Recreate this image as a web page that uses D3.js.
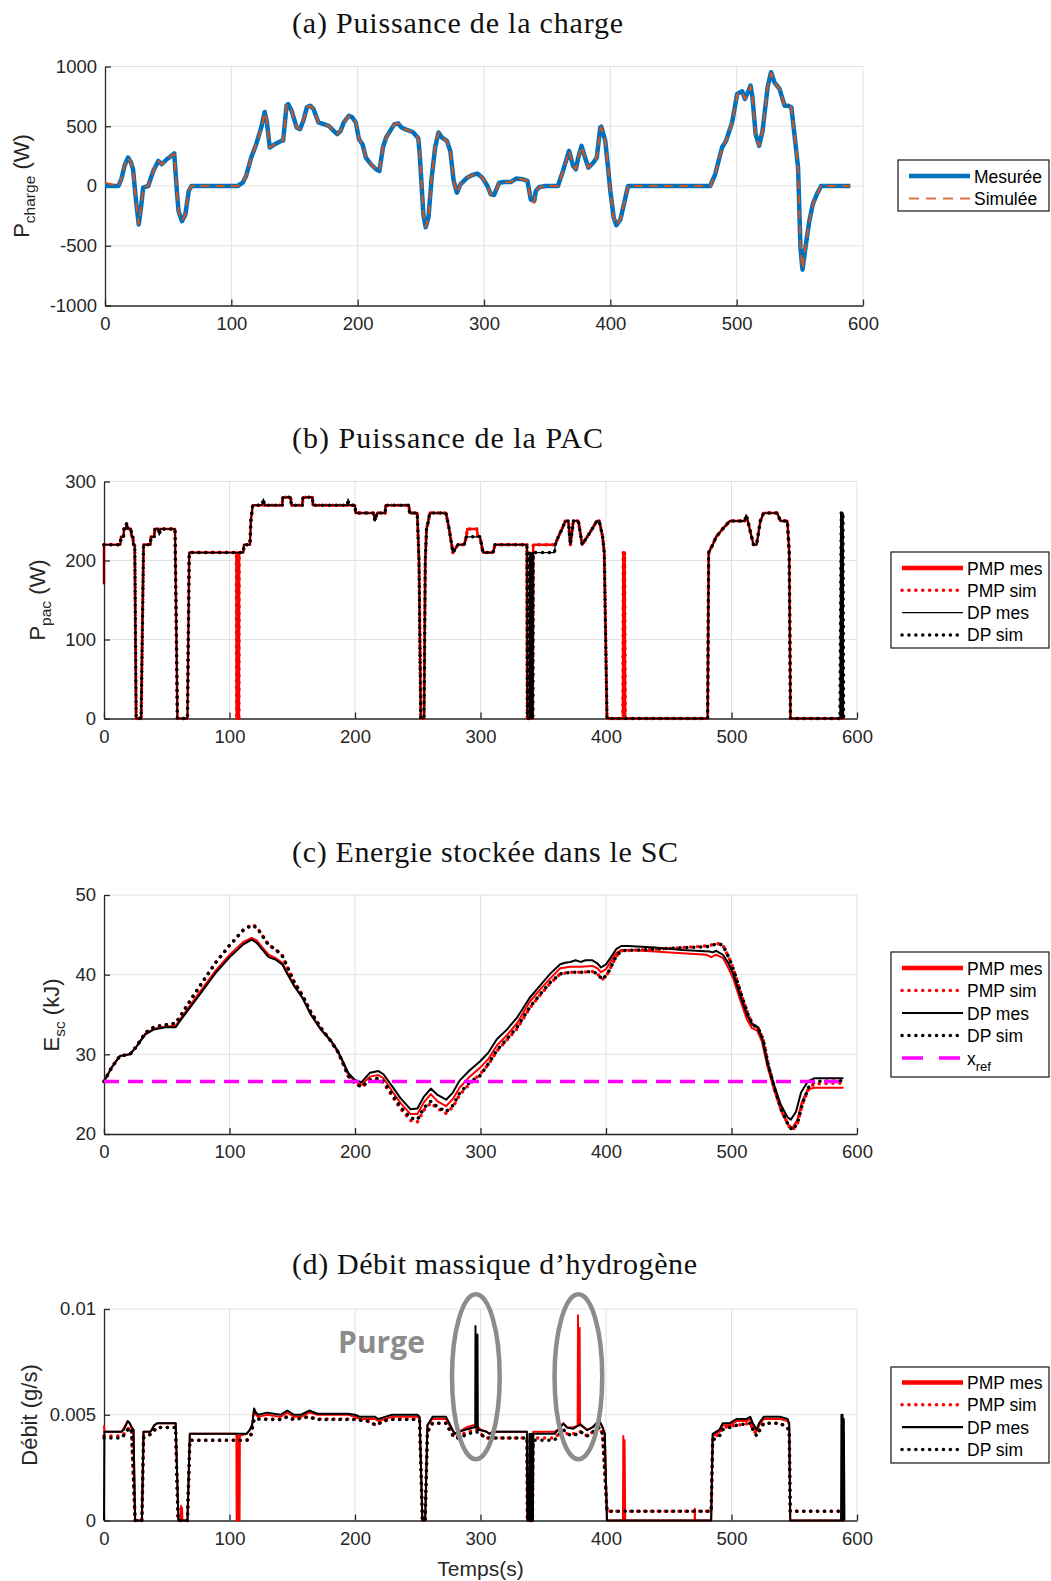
<!DOCTYPE html>
<html><head><meta charset="utf-8">
<script src="https://cdn.jsdelivr.net/npm/d3@7"></script>
<style>body{margin:0;background:#fff}svg{display:block}</style>
</head><body>
<script>
// ---------- DATA ----------
const xTicks = [0,100,200,300,400,500,600];
const xTickLabels = ['0','100','200','300','400','500','600'];
const aYTicks = [-1000,-500,0,500,1000];
const aYTickLabels = ['-1000','-500','0','500','1000'];
const bYTicks = [0,100,200,300];
const bYTickLabels = ['0','100','200','300'];
const cYTicks = [20,30,40,50];
const cYTickLabels = ['20','30','40','50'];
const dYTicks = [0,0.005,0.01];
const dYTickLabels = ['0','0.005','0.01'];

const titles = ['(a) Puissance de la charge','(b) Puissance de la PAC','(c) Energie stockée dans le SC','(d) Débit massique d’hydrogène'];
const legendA = ['Mesurée','Simulée'];
const legendB = ['PMP mes','PMP sim','DP mes','DP sim'];
const legendC = ['PMP mes','PMP sim','DP mes','DP sim','x_ref'];

// (a) load power [t (s), P (W)]
const chargeMes = [[0,0],[10.7,0],[13,60],[15.5,170],[18.2,238],[20.5,200],[22.2,140],[24.5,-120],[26.7,-322],[28.5,-180],[30.2,-14],[34.2,0],[38.2,126],[42.2,210],[44.9,182],[48.9,224],[51.6,244],[54.8,272],[56.9,-42],[58.2,-210],[60.9,-294],[63.6,-238],[66.3,-42],[68.4,0],[105,0],[109,28],[111.7,84],[115.7,238],[119.7,350],[123.7,490],[126.4,620],[128.2,532],[130.4,322],[134.4,350],[139.7,378],[141,380],[143.7,672],[145,686],[147.7,630],[151.7,490],[154.4,476],[157,546],[159.8,658],[162.4,672],[165,644],[169,532],[177,504],[181,462],[183.8,434],[186.5,462],[189,532],[193,588],[195.8,574],[198.5,532],[201,392],[203.8,350],[206.5,238],[210.5,182],[214.5,140],[217.2,126],[220,322],[222.5,406],[226.6,476],[229.2,518],[232,524],[234.6,490],[237.2,476],[241.2,462],[244,448],[248,400],[249.3,238],[252,-238],[253.8,-345],[256,-266],[258.6,70],[261.3,322],[264,448],[266.6,406],[270.6,378],[273.3,294],[276,42],[278.6,-56],[281.3,14],[286.7,70],[290.7,92],[294.7,104],[298.7,70],[302.7,0],[305.4,-70],[308,-75],[312,28],[316,34],[321.4,34],[325.4,62],[330.7,56],[334.4,42],[337,-112],[339.7,-126],[341,-42],[343.8,-8],[349,0],[358.5,0],[362.5,126],[367.3,294],[370.5,168],[372.7,140],[374.6,238],[377.2,336],[380,238],[382.6,154],[386.6,196],[389.3,238],[392,490],[392.8,496],[396,378],[397.9,182],[400,-42],[402.7,-266],[404.8,-328],[408,-280],[410.7,-154],[414,0],[479,0],[483,98],[488.4,322],[491.6,378],[496.4,532],[500.4,770],[504.4,793],[506.6,728],[511,840],[512.5,742],[515,434],[517.8,336],[520.5,462],[524.5,826],[527.2,952],[529.9,868],[533.9,812],[537.9,672],[540.6,672],[543.3,658],[546,406],[548.6,154],[550.5,-518],[552.1,-700],[554.8,-490],[557.5,-294],[560.2,-154],[563.4,-70],[566.8,0],[590,0]];
const chargeSim = [[0,28],[10.7,0],[13,60],[15.5,170],[18.2,236],[20.5,200],[22.2,140],[24.5,-120],[26.7,-318],[28.5,-180],[30.2,-14],[34.2,0],[38.2,126],[42.2,210],[44.9,182],[48.9,224],[51.6,244],[54.8,270],[56.9,-42],[58.2,-210],[60.9,-290],[63.6,-238],[66.3,-42],[68.4,0],[105,0],[109,28],[111.7,84],[115.7,238],[119.7,350],[123.7,490],[126.4,615],[128.2,532],[130.4,322],[134.4,350],[139.7,378],[141,380],[143.7,672],[145,682],[147.7,630],[151.7,490],[154.4,476],[157,546],[159.8,658],[162.4,670],[165,644],[169,532],[177,504],[181,462],[183.8,434],[186.5,462],[189,532],[193,585],[195.8,574],[198.5,532],[201,392],[203.8,350],[206.5,238],[210.5,182],[214.5,140],[217.2,126],[220,322],[222.5,406],[226.6,476],[229.2,518],[232,524],[234.6,490],[237.2,476],[241.2,462],[244,448],[248,400],[249.3,238],[252,-238],[253.8,-340],[256,-266],[258.6,70],[261.3,322],[264,448],[266.6,406],[270.6,378],[273.3,294],[276,42],[278.6,-56],[281.3,14],[286.7,70],[290.7,92],[294.7,104],[298.7,70],[302.7,0],[305.4,-70],[308,-75],[312,28],[316,34],[321.4,34],[325.4,62],[330.7,56],[334.4,42],[337,-120],[339.7,-140],[341,-42],[343.8,-8],[349,0],[358.5,0],[362.5,126],[367.3,290],[370.5,168],[372.7,140],[374.6,238],[377.2,330],[380,238],[382.6,154],[386.6,196],[389.3,238],[392,486],[392.8,492],[396,378],[397.9,182],[400,-42],[402.7,-266],[404.8,-325],[408,-280],[410.7,-154],[414,0],[479,0],[483,98],[488.4,322],[491.6,378],[496.4,532],[500.4,765],[504.4,790],[506.6,728],[511,835],[512.5,742],[515,434],[517.8,336],[520.5,462],[524.5,826],[527.2,945],[529.9,868],[533.9,812],[537.9,672],[540.6,672],[543.3,658],[546,406],[548.6,154],[550.5,-518],[552.1,-690],[554.8,-490],[557.5,-294],[560.2,-154],[563.4,-70],[566.8,0],[590,0]];

// (b) fuel-cell power [t (s), P (W)]
const pacPmpMes = [[0,170],[0,220],[13,220],[13.5,230],[15.5,230],[16,240],[17.5,240],[18,246],[19,240],[21.5,240],[22,230],[23,230],[23.5,220],[24.5,220],[25.6,0],[29.6,0],[31.5,220],[36.9,220],[37.5,230],[40,230],[40.5,240],[56.6,240],[58.5,0],[66.5,0],[67.9,210],[105.5,210],[105.7,0],[106.2,0],[106.4,210],[106.8,210],[107,0],[107.5,0],[107.7,210],[111,210],[111.5,220],[116.3,220],[117,250],[118.5,270],[142,270],[142.5,280],[148.7,280],[149.3,270],[158,270],[158.6,280],[166,280],[166.6,270],[200,270],[200.5,260],[214.6,260],[216,252],[217.5,260],[224,260],[224.5,270],[243,270],[243.5,260],[249.6,260],[251,200],[252.4,0],[255,0],[256,200],[257,240],[258.5,250],[259.5,260],[272.5,260],[275,240],[278,210],[280,215],[282,220],[287,220],[288.7,230],[289.5,240],[297,240],[298,230],[299.5,230],[300.8,220],[302,210],[310,210],[311.6,220],[337,220],[337.3,0],[341.5,0],[342,220],[358,220],[359.5,220],[362,230],[365,240],[367.6,250],[370,250],[371.6,220],[374,250],[378,250],[381,220],[385,230],[389,240],[392.7,250],[394.6,250],[397.3,230],[398.6,210],[400.8,0],[413.5,0],[413.8,210],[414.3,0],[414.8,210],[415.3,0],[481,0],[481.8,210],[485,220],[487.8,230],[493,240],[498.6,250],[510.7,250],[511.6,256],[513,250],[517.5,220],[520,220],[523,250],[525.6,260],[536.4,260],[539,250],[544.5,250],[546,210],[547,0],[590,0]];
const pacPmpSim = [[0,220],[13,220],[13.5,230],[15.5,230],[16,240],[17.5,240],[18,246],[19,240],[21.5,240],[22,230],[23,230],[23.5,220],[24.5,220],[25.6,0],[29.6,0],[31.5,220],[36.9,220],[37.5,230],[40,230],[40.5,240],[56.6,240],[58.5,0],[66.5,0],[67.9,210],[105.5,210],[105.7,0],[106.2,0],[106.4,210],[106.8,210],[107,0],[107.5,0],[107.7,210],[111,210],[111.5,220],[116.3,220],[117,250],[118.5,270],[142,270],[142.5,280],[148.7,280],[149.3,270],[158,270],[158.6,280],[166,280],[166.6,270],[200,270],[200.5,260],[214.6,260],[216,252],[217.5,260],[224,260],[224.5,270],[243,270],[243.5,260],[249.6,260],[251,200],[252.4,0],[255,0],[256,200],[257,240],[258.5,250],[259.5,260],[272.5,260],[275,240],[278,210],[280,215],[282,220],[287,220],[288.7,230],[289.5,240],[297,240],[298,230],[299.5,230],[300.8,220],[302,210],[310,210],[311.6,220],[337,220],[337.3,0],[341.5,0],[342,220],[358,220],[359.5,220],[362,230],[365,240],[367.6,250],[370,250],[371.6,220],[374,250],[378,250],[381,220],[385,230],[389,240],[392.7,250],[394.6,250],[397.3,230],[398.6,210],[400.8,0],[413.5,0],[413.8,210],[414.3,0],[414.8,210],[415.3,0],[481,0],[481.8,210],[485,220],[487.8,230],[493,240],[498.6,250],[510.7,250],[511.6,256],[513,250],[517.5,220],[520,220],[523,250],[525.6,260],[536.4,260],[539,250],[544.5,250],[546,210],[547,0],[590,0]];
const pacDpMes = [[0,170],[0,220],[13,220],[13.5,230],[15.5,230],[16,240],[17.5,240],[18,248],[19,240],[21.5,240],[22,230],[23,230],[23.5,220],[24.5,220],[25.6,0],[29.6,0],[31.5,220],[36.9,220],[37.5,230],[40,230],[40.5,240],[43.5,240],[44,232],[45,240],[56.6,240],[58.5,0],[66.5,0],[67.9,210],[111,210],[111.5,220],[116.3,220],[117,250],[118.5,270],[126,270],[127,278],[128,270],[142,270],[142.5,280],[148.7,280],[149.3,270],[158,270],[158.6,280],[166,280],[166.6,270],[194,270],[194.5,278],[195,270],[200,270],[200.5,260],[214.6,260],[216,250],[217.5,260],[224,260],[224.5,270],[243,270],[243.5,260],[249.6,260],[251,200],[252.4,0],[255,0],[256,200],[257,240],[258.5,250],[259.5,260],[272.5,260],[275,240],[278,210],[280,215],[282,220],[287,220],[288.7,230],[299.5,230],[300.8,220],[302,210],[310,210],[311.6,220],[337,220],[337.3,0],[338.7,0],[339,210],[339.3,0],[339.8,0],[340,210],[340.3,0],[340.8,0],[341,210],[341.3,0],[341.8,0],[342,210],[359,210],[359.5,220],[362,230],[365,240],[367.6,250],[370,250],[371.6,220],[374,250],[378,250],[381,220],[385,230],[389,240],[392.7,250],[394.6,250],[397.3,230],[398.6,210],[400.8,0],[481,0],[481.8,210],[485,220],[487.8,230],[493,240],[498.6,250],[510.7,250],[511.6,258],[513,250],[517.5,220],[520,220],[523,250],[525.6,260],[536.4,260],[539,250],[544.5,250],[546,210],[547,0],[586.4,0],[587,260],[587.5,0],[588,260],[588.5,0],[589,260],[589.3,0]];
const pacDpSim = [[0,220],[13,220],[13.5,230],[15.5,230],[16,240],[17.5,240],[18,248],[19,240],[21.5,240],[22,230],[23,230],[23.5,220],[24.5,220],[25.6,0],[29.6,0],[31.5,220],[36.9,220],[37.5,230],[40,230],[40.5,240],[43.5,240],[44,232],[45,240],[56.6,240],[58.5,0],[66.5,0],[67.9,210],[111,210],[111.5,220],[116.3,220],[117,250],[118.5,270],[126,270],[127,278],[128,270],[142,270],[142.5,280],[148.7,280],[149.3,270],[158,270],[158.6,280],[166,280],[166.6,270],[194,270],[194.5,278],[195,270],[200,270],[200.5,260],[214.6,260],[216,250],[217.5,260],[224,260],[224.5,270],[243,270],[243.5,260],[249.6,260],[251,200],[252.4,0],[255,0],[256,200],[257,240],[258.5,250],[259.5,260],[272.5,260],[275,240],[278,210],[280,215],[282,220],[287,220],[288.7,230],[299.5,230],[300.8,220],[302,210],[310,210],[311.6,220],[337,220],[337.3,0],[338.7,0],[339,210],[339.3,0],[340.8,0],[341,210],[341.3,0],[341.8,0],[342,210],[359,210],[359.5,220],[362,230],[365,240],[367.6,250],[370,250],[371.6,220],[374,250],[378,250],[381,220],[385,230],[389,240],[392.7,250],[394.6,250],[397.3,230],[398.6,210],[400.8,0],[481,0],[481.8,210],[485,220],[487.8,230],[493,240],[498.6,250],[510.7,250],[511.6,258],[513,250],[517.5,220],[520,220],[523,250],[525.6,260],[536.4,260],[539,250],[544.5,250],[546,210],[547,0],[586.4,0],[587.5,260],[588.2,0],[588.8,260],[589.3,0]];

// (c) stored energy [t (s), E (kJ)]
const escPmpMes = [[0,26.6],[5.9,28.3],[12.7,29.8],[20.7,30.0],[26,31.0],[32.9,32.6],[39.6,33.2],[49,33.5],[57.1,33.6],[62.5,34.8],[70.6,36.6],[78.6,38.3],[89.4,40.6],[100.2,42.5],[111,44.1],[117.7,44.6],[121.7,44.3],[125.8,43.5],[131.2,42.5],[136.5,42.1],[142,41.5],[146,40.3],[151.4,38.7],[158.1,37.1],[164.8,35.0],[172.9,33.1],[181,31.6],[186.4,30.3],[190.4,29.0],[194.5,27.5],[199.8,26.6],[205.2,26.2],[212,27.2],[218.7,27.4],[222.7,27.0],[229.5,25.4],[236.2,23.9],[244.3,22.5],[249.7,22.5],[255,24.0],[260.4,25.0],[265.8,24.1],[272.6,23.5],[278,24.4],[283.3,25.8],[291.4,27.2],[299.5,28.3],[306.2,29.4],[313,31.1],[321,32.4],[329.1,33.9],[339.2,36.6],[347.3,38.1],[355.4,39.5],[363.5,40.8],[371.6,41.0],[379.7,41.0],[389.2,41.1],[393.2,40.8],[396,40.3],[400,40.7],[404,41.7],[408.1,42.7],[412.2,43.1],[417.6,43.1],[439.2,42.9],[460.8,42.7],[480,42.5],[483.8,42.2],[487.8,42.5],[493.2,42.1],[497.3,40.9],[501.4,39.5],[506.8,36.9],[512.2,34.4],[516.2,33.3],[520.3,33.0],[524.3,31.6],[528.4,28.6],[533.8,25.6],[539.2,23.0],[544.6,21.3],[548.6,20.75],[552.5,21.8],[556,24.0],[560.8,25.6],[566.2,25.8],[589.2,25.8]];
const escPmpSim = [[0,26.6],[5.9,28.3],[12.7,29.8],[20.7,30.0],[26,31.0],[32.9,32.7],[39.6,33.4],[49,33.7],[57.1,33.9],[62.5,35.2],[70.6,37.2],[78.6,39.1],[89.4,41.6],[100.2,43.7],[111,45.6],[117.7,46.3],[121.7,46.0],[125.8,45.0],[131.2,43.7],[136.5,43.2],[142,42.4],[146,41.0],[151.4,39.1],[158.1,37.4],[164.8,35.3],[172.9,33.3],[181,31.6],[186.4,30.3],[190.4,28.9],[194.5,27.3],[199.8,26.4],[205.2,25.9],[212,26.7],[218.7,26.9],[222.7,26.4],[229.5,24.8],[236.2,23.2],[244.3,21.7],[249.7,21.5],[255,23.0],[260.4,23.9],[265.8,23.2],[272.6,22.6],[278,23.4],[283.3,24.9],[291.4,26.3],[299.5,27.5],[306.2,28.7],[313,30.4],[321,31.8],[329.1,33.2],[339.2,35.8],[347.3,37.4],[355.4,38.9],[363.5,40.1],[371.6,40.3],[379.7,40.3],[389.2,40.4],[393.2,40.1],[397,39.4],[401,40.05],[404,41.0],[408.1,42.3],[412.2,43.0],[439.2,43.2],[460.8,43.4],[480,43.6],[489,43.9],[493.2,43.7],[498.6,41.9],[502.5,40.2],[507.8,37.5],[513.2,35.0],[517,33.7],[521.3,33.3],[525.3,31.8],[529.4,28.6],[534.8,25.5],[540,22.9],[545.6,21.0],[548.6,20.5],[552.5,21.3],[556.5,23.8],[561.8,25.8],[566.2,26.3],[589.2,26.4]];
const escDpMes = [[0,26.6],[5.9,28.3],[12.7,29.8],[20.7,30.0],[26,31.0],[32.9,32.5],[39.6,33.1],[49,33.4],[57.1,33.4],[62.5,34.6],[70.6,36.3],[78.6,38.0],[89.4,40.3],[100.2,42.2],[111,43.8],[117.7,44.4],[121.7,44.0],[125.8,43.2],[131.2,42.2],[136.5,41.9],[142,41.3],[146,40.1],[151.4,38.6],[158.1,37.1],[164.8,35.0],[172.9,33.1],[181,31.7],[186.4,30.4],[190.4,29.1],[194.5,27.7],[199.8,26.8],[205.2,26.5],[212,27.7],[218.7,27.9],[222.7,27.5],[229.5,26.0],[236.2,24.5],[244.3,23.1],[249.7,23.2],[255,24.7],[260.4,25.7],[265.8,24.9],[272.6,24.3],[278,25.2],[283.3,26.7],[291.4,28.0],[299.5,29.1],[306.2,30.2],[313,31.9],[321,33.1],[329.1,34.6],[339.2,37.1],[347.3,38.6],[355.4,40.1],[363.5,41.3],[367.6,41.5],[371.6,41.6],[375.7,41.8],[379.7,41.6],[383.8,41.8],[389.2,41.8],[393.2,41.4],[396,40.9],[400,41.3],[404,42.2],[408.1,43.2],[412.2,43.6],[417.6,43.6],[439.2,43.4],[460.8,43.1],[482.4,42.9],[485.1,42.8],[487.8,43.0],[493.2,42.5],[497.3,41.5],[501.4,40.1],[506.8,37.5],[512.2,35.0],[516.2,33.8],[520.3,33.5],[524.3,32.1],[528.4,29.1],[533.8,26.2],[539.2,23.7],[544.6,22.1],[547.3,21.8],[551.4,22.8],[555.4,25.2],[560.8,26.6],[566.2,27.0],[589.2,27.0]];
const escDpSim = [[0,26.6],[5.9,28.3],[12.7,29.8],[20.7,30.0],[26,31.0],[32.9,32.7],[39.6,33.4],[49,33.7],[57.1,33.9],[62.5,35.2],[70.6,37.2],[78.6,39.1],[89.4,41.6],[100.2,43.7],[111,45.6],[117.7,46.2],[121.7,45.9],[125.8,45.0],[131.2,43.7],[136.5,43.2],[142,42.4],[146,41.0],[151.4,39.1],[158.1,37.4],[164.8,35.3],[172.9,33.3],[181,31.6],[186.4,30.3],[190.4,28.9],[194.5,27.3],[199.8,26.4],[205.2,25.9],[212,26.8],[218.7,27.0],[222.7,26.6],[229.5,25.0],[236.2,23.4],[244.3,22.0],[249.7,21.8],[255,23.3],[260.4,24.1],[265.8,23.4],[272.6,22.8],[278,23.6],[283.3,25.1],[291.4,26.5],[299.5,27.3],[306.2,28.8],[313,30.5],[321,31.9],[329.1,33.4],[339.2,35.9],[347.3,37.5],[355.4,39.0],[363.5,40.1],[371.6,40.3],[379.7,40.3],[389.2,40.4],[393.2,40.1],[397,39.4],[401,40.05],[404,41.0],[408.1,42.3],[412.2,43.0],[439.2,43.2],[460.8,43.4],[480,43.5],[489,43.9],[493.2,43.7],[498.6,41.9],[502.5,40.2],[507.8,37.5],[513.2,35.0],[517,33.7],[521.3,33.3],[525.3,31.8],[529.4,28.6],[534.8,25.5],[540,22.9],[545.6,21.0],[548.6,20.5],[552.5,21.3],[556.5,23.8],[561.8,26.0],[566.2,26.6],[589.2,26.7]];
const xRef = 26.6;
const xRefSpan = [0,590];

// (d) hydrogen mass flow [t (s), g/s]
const debPmpMes = [[0,0.0045],[0.3,0.0042],[14,0.0042],[16,0.0044],[18.9,0.0047],[20.5,0.0046],[22,0.0044],[23.5,0.0043],[24.8,0],[30.2,0],[31.5,0.0042],[37,0.0042],[38.2,0.0043],[40,0.0045],[42.3,0.0046],[57.1,0.0046],[59.3,0],[61,0],[61.3,0.0007],[61.8,0],[62.2,0.0006],[62.5,0],[66.5,0],[68.4,0.0041],[105.5,0.0041],[105.7,0],[106.3,0],[106.5,0.0040],[106.9,0],[107.4,0],[107.6,0.0040],[108,0],[108.3,0.0040],[113.7,0.0041],[116.3,0.0043],[118,0.0045],[119.6,0.0052],[121,0.0050],[123,0.0049],[129.8,0.0050],[140.6,0.0049],[146,0.0051],[151.4,0.0049],[157,0.0049],[163.5,0.0051],[170.2,0.0050],[194.5,0.0050],[200,0.0049],[204,0.0048],[216,0.0048],[218.7,0.0047],[224,0.0048],[229.5,0.0049],[249.7,0.0049],[251.5,0.0048],[253.7,0],[255.9,0],[257.7,0.0045],[261.8,0.0048],[272.5,0.0048],[275.2,0.0045],[279.3,0.0041],[283.3,0.0042],[288.7,0.0044],[294,0.0045],[297,0.0045],[300,0.0043],[304.9,0.0042],[307,0.0041],[310,0.0042],[337,0.0042],[337.4,0],[341.5,0],[342,0.0042],[359,0.0042],[362,0.0043],[366,0.0046],[369,0.0044],[374,0.0044],[377.4,0.0045],[377.7,0.0097],[378.1,0.0045],[378.8,0.0045],[379,0.0091],[379.3,0.0045],[379.7,0.0045],[385,0.0043],[389.2,0.0044],[394.6,0.0047],[397.3,0.0044],[399,0.0041],[400.8,0],[413.5,0],[413.8,0.0040],[414.3,0],[414.8,0.0038],[415.3,0],[470.6,0],[470.8,0.00055],[471,0],[483.8,0],[485,0.0040],[490.5,0.0042],[493,0.0045],[498.6,0.0045],[504,0.0047],[512,0.0047],[515,0.0048],[517,0.0045],[520,0.0042],[522,0.0045],[525.7,0.0048],[539,0.0048],[544.6,0.0047],[546,0.0045],[546.8,0],[590,0]];
const debPmpSim = [[0,0.0040],[14,0.0040],[18,0.0042],[20,0.0044],[22,0.0042],[24.8,0],[30.2,0],[31.5,0.0040],[38,0.0041],[42,0.0044],[57,0.0044],[59,0],[66.5,0],[68.4,0.0038],[114,0.0038],[117,0.0040],[119.6,0.0048],[140,0.0048],[146,0.0049],[151,0.0048],[163,0.0049],[170,0.0048],[200,0.0048],[210,0.0047],[217,0.0045],[222,0.0047],[229,0.0048],[249.7,0.0048],[251.5,0.0047],[253.7,0],[255.9,0],[257.7,0.0042],[261.8,0.0046],[272.5,0.0046],[275.2,0.0043],[279.3,0.0039],[283.3,0.0040],[290,0.0042],[297,0.0043],[302,0.0040],[305,0.0039],[337,0.0039],[337.4,0],[341.5,0],[342,0.0039],[359,0.0039],[366,0.0043],[369,0.0041],[374,0.0041],[379.7,0.0042],[385,0.0040],[394.6,0.0044],[397.3,0.0041],[400.8,0.00044],[483.8,0.00044],[485,0.0039],[490.5,0.0041],[493,0.0044],[504,0.0045],[515,0.0046],[517,0.0043],[520,0.0041],[525.7,0.0046],[539,0.0046],[546,0.0043],[546.8,0.00044],[587.3,0.00044]];
const debDpMes = [[0,0],[0.3,0.0042],[14,0.0042],[16,0.0043],[18.9,0.0047],[20.5,0.0046],[22,0.0044],[23.5,0.0043],[24.8,0],[30.2,0],[31.5,0.0042],[37,0.0042],[38.2,0.0043],[40,0.0045],[42.3,0.0046],[57.1,0.0046],[59.3,0],[66.5,0],[68.4,0.0041],[113.7,0.0041],[116.3,0.0043],[118,0.0045],[119.6,0.0053],[121,0.0051],[123,0.0050],[129.8,0.0051],[140.6,0.0050],[146,0.0052],[151.4,0.0050],[157,0.0050],[163.5,0.0052],[170.2,0.00505],[194.5,0.00505],[200,0.0050],[204,0.0049],[216,0.0049],[218.7,0.0048],[224,0.0049],[229.5,0.0050],[249.7,0.0050],[251.5,0.0049],[253.7,0],[255.9,0],[257.7,0.0045],[261.8,0.0049],[272.5,0.0049],[275.2,0.0046],[279.3,0.0041],[283.3,0.0042],[288.7,0.0043],[294,0.0044],[295.8,0.0044],[296,0.0092],[296.3,0.0044],[297.3,0.0044],[297.6,0.0088],[297.9,0.0043],[304.9,0.0042],[307,0.0041],[310,0.0042],[337,0.0042],[337.4,0],[338.7,0],[339,0.0041],[339.3,0],[340.3,0],[340.6,0.0041],[340.9,0],[341.8,0],[342,0.0041],[359,0.0041],[362,0.0043],[366,0.00458],[369,0.0044],[374,0.00434],[379.7,0.00455],[385,0.00427],[389.2,0.0044],[394.6,0.00474],[397.3,0.0044],[399,0.0041],[400.8,0],[483.8,0],[485,0.0041],[490.5,0.0043],[493,0.0046],[498.6,0.0046],[504,0.0048],[512,0.0048],[515,0.0049],[517,0.0046],[520,0.0043],[522,0.0046],[525.7,0.0049],[539,0.0049],[544.6,0.0048],[546,0.0046],[546.8,0],[587.3,0],[587.6,0.0050],[588,0],[588.5,0.0050],[589,0],[589.5,0.0048],[590,0]];
const debDpSim = [[0,0.0039],[14,0.0039],[18,0.0042],[20,0.0044],[22,0.0042],[24.8,0],[30.2,0],[31.5,0.0039],[38,0.0041],[42,0.0044],[57,0.0044],[59,0],[66.5,0],[68.4,0.0038],[114,0.0038],[117,0.0040],[119.6,0.0048],[140,0.00477],[146,0.0049],[151,0.00477],[163,0.0049],[170,0.00477],[200,0.00477],[210,0.0047],[217,0.0045],[222,0.0047],[229,0.00477],[249.7,0.00477],[251.5,0.0047],[253.7,0],[255.9,0],[257.7,0.0042],[261.8,0.0046],[272.5,0.0046],[275.2,0.0043],[279.3,0.0039],[283.3,0.0039],[290,0.0041],[297,0.0042],[302,0.0040],[305,0.0039],[337,0.0039],[337.4,0],[341,0],[342,0.0038],[359,0.0038],[366,0.0043],[369,0.0041],[374,0.0040],[379.7,0.0042],[385,0.0040],[394.6,0.0044],[397.3,0.0041],[400.8,0.00044],[483.8,0.00044],[485,0.0038],[490.5,0.0040],[493,0.0043],[504,0.0045],[515,0.0046],[517,0.0043],[520,0.0040],[525.7,0.0046],[539,0.0046],[546,0.0043],[546.8,0.00044],[587.3,0.00044]];
const purgeTimes = [296.3, 378];
const purgeLevel = 0.0068;
const purgeHalfWidth = 19;      // s
const purgeHalfHeight = 0.0039; // g/s
const purgeLabel = 'Purge';
const purgeLabelAt = [186.5, 0.0079];

// ---------- DRAWING ----------
const W = 1051, H = 1581;
const AX = '#262626', GRID = '#e2e2e2';
const SANS = '"Liberation Sans", Arial, Helvetica, sans-serif';
const SERIF = '"Liberation Serif", "Times New Roman", serif';
const svg = d3.select('body').append('svg').attr('width', W).attr('height', H);
svg.append('rect').attr('width', W).attr('height', H).attr('fill', '#fff');
const defs = svg.append('defs');

const RED = '#ff0000', BLK = '#000000';
const dotted = '0.1,6.8';

function drawPanel(p) {
  const x = d3.scaleLinear().domain([0, 600]).range([p.left, p.right]);
  const y = d3.scaleLinear().domain(p.yDomain).range([p.bottom, p.top]);
  const g = svg.append('g');
  // grid
  g.selectAll('line.gx').data(xTicks.slice(1)).join('line')
    .attr('x1', d => x(d)).attr('x2', d => x(d)).attr('y1', p.top).attr('y2', p.bottom)
    .attr('stroke', GRID).attr('stroke-width', 1);
  g.selectAll('line.gy').data(p.yTicks.slice(1)).join('line')
    .attr('x1', p.left).attr('x2', p.right).attr('y1', d => y(d)).attr('y2', d => y(d))
    .attr('stroke', GRID).attr('stroke-width', 1);
  // axes
  const ax = g.append('g').attr('transform', `translate(0,${p.bottom})`)
    .call(d3.axisBottom(x).tickValues(xTicks).tickFormat((d, i) => xTickLabels[i])
      .tickSizeInner(-6).tickSizeOuter(0).tickPadding(11));
  const ay = g.append('g').attr('transform', `translate(${p.left},0)`)
    .call(d3.axisLeft(y).tickValues(p.yTicks).tickFormat((d, i) => p.yLabels[i])
      .tickSizeInner(-6).tickSizeOuter(0).tickPadding(8));
  [ax, ay].forEach(a => {
    a.selectAll('path,line').attr('stroke', AX).attr('stroke-width', 1.3);
    a.selectAll('text').attr('fill', AX).style('font-family', SANS).style('font-size', '18.5px');
  });
  // clip
  const cid = 'clip-' + p.name;
  defs.append('clipPath').attr('id', cid).append('rect')
    .attr('x', p.left - 3).attr('y', p.top - 3).attr('width', p.right - p.left + 6).attr('height', p.bottom - p.top + 6);
  const line = d3.line().x(d => x(d[0])).y(d => y(d[1]));
  const sg = g.append('g').attr('clip-path', `url(#${cid})`);
  p.series.forEach(s => {
    sg.append('path').attr('d', line(s.data)).attr('fill', 'none')
      .attr('stroke', s.color).attr('stroke-width', s.width)
      .attr('stroke-dasharray', s.dash || null)
      .attr('stroke-linecap', s.dash === dotted ? 'round' : 'butt')
      .attr('stroke-linejoin', 'round');
  });
  return { x, y, g };
}

function ylabel(xb, yc, main, sub, rest) {
  const t = svg.append('text').attr('transform', `translate(${xb},${yc}) rotate(-90)`)
    .attr('text-anchor', 'middle').attr('fill', AX)
    .style('font-family', SANS).style('font-size', '22px');
  t.append('tspan').text(main);
  if (sub) {
    t.append('tspan').attr('dy', 6).style('font-size', '15.5px').text(sub);
    t.append('tspan').attr('dy', -6).text(rest);
  }
}

function title(txt, yb, len) {
  svg.append('text').attr('x', 292).attr('y', yb).attr('fill', '#111')
    .attr('textLength', len).attr('lengthAdjust', 'spacing')
    .style('font-family', SERIF).style('font-size', '30px').text(txt);
}

function legend(L) {
  svg.append('rect').attr('x', L.x).attr('y', L.y).attr('width', L.w).attr('height', L.h)
    .attr('fill', '#fff').attr('stroke', AX).attr('stroke-width', 1.3);
  L.items.forEach((it, i) => {
    const cy = L.y + L.first + i * L.step;
    svg.append('line').attr('x1', L.lx1).attr('x2', L.lx2).attr('y1', cy).attr('y2', cy)
      .attr('stroke', it.color).attr('stroke-width', it.width)
      .attr('stroke-dasharray', it.dash || null)
      .attr('stroke-linecap', it.dash === dotted ? 'round' : 'butt');
    const t = svg.append('text').attr('x', L.tx).attr('y', cy + 6.5).attr('fill', '#000')
      .style('font-family', SANS).style('font-size', '17.5px');
    if (it.label.includes('_')) {
      const [m, s] = it.label.split('_');
      t.append('tspan').text(m);
      t.append('tspan').attr('dy', 6).style('font-size', '13px').text(s);
    } else t.text(it.label);
  });
}

// ---- Panel (a)
title(titles[0], 33, 331);
drawPanel({ name: 'a', left: 105, right: 863, top: 66.5, bottom: 305.5,
  yDomain: [-1000, 1000], yTicks: aYTicks, yLabels: aYTickLabels,
  series: [
    { data: chargeMes, color: '#0072BD', width: 4.5 },
    { data: chargeSim, color: '#D95319', width: 2, dash: '9,6' }
  ] });
ylabel(29, 186, 'P', 'charge', ' (W)');
legend({ x: 898, y: 160, w: 151, h: 51, first: 16, step: 22.5, lx1: 909, lx2: 970, tx: 974,
  items: [
    { label: legendA[0], color: '#0072BD', width: 4.5 },
    { label: legendA[1], color: '#E07040', width: 2, dash: '10,7' }
  ] });

// ---- Panel (b)
title(titles[1], 448, 311);
drawPanel({ name: 'b', left: 104, right: 857, top: 481.5, bottom: 718.5,
  yDomain: [0, 300], yTicks: bYTicks, yLabels: bYTickLabels,
  series: [
    { data: pacPmpMes, color: RED, width: 2.5 },
    { data: pacPmpSim, color: RED, width: 3.5, dash: dotted },
    { data: pacDpMes, color: BLK, width: 1.3 },
    { data: pacDpSim, color: BLK, width: 3.5, dash: dotted }
  ] });
ylabel(45, 600, 'P', 'pac', ' (W)');
legend({ x: 891, y: 552, w: 158, h: 96, first: 16, step: 22.3, lx1: 902, lx2: 963, tx: 967,
  items: [
    { label: legendB[0], color: RED, width: 4.5 },
    { label: legendB[1], color: RED, width: 3.5, dash: dotted },
    { label: legendB[2], color: BLK, width: 1.3 },
    { label: legendB[3], color: BLK, width: 3.5, dash: dotted }
  ] });

// ---- Panel (c)
title(titles[2], 862, 386);
const pc = drawPanel({ name: 'c', left: 104, right: 857, top: 895, bottom: 1134,
  yDomain: [20, 50], yTicks: cYTicks, yLabels: cYTickLabels,
  series: [
    { data: escPmpMes, color: RED, width: 2 },
    { data: escPmpSim, color: RED, width: 3.5, dash: dotted },
    { data: escDpMes, color: BLK, width: 2 },
    { data: escDpSim, color: BLK, width: 3.5, dash: dotted },
    { data: xRefSpan.map(t => [t, xRef]), color: '#ff00ff', width: 3.5, dash: '15,9' }
  ] });
ylabel(59, 1015, 'E', 'sc', ' (kJ)');
legend({ x: 891, y: 952, w: 158, h: 125, first: 16, step: 22.5, lx1: 902, lx2: 963, tx: 967,
  items: [
    { label: legendC[0], color: RED, width: 4.5 },
    { label: legendC[1], color: RED, width: 3.5, dash: dotted },
    { label: legendC[2], color: BLK, width: 2.2 },
    { label: legendC[3], color: BLK, width: 3.5, dash: dotted },
    { label: legendC[4], color: '#ff00ff', width: 3.5, dash: '21,16' }
  ] });

// ---- Panel (d)
title(titles[3], 1274, 405);
const pd = drawPanel({ name: 'd', left: 104, right: 857, top: 1309, bottom: 1520.5,
  yDomain: [0, 0.01], yTicks: dYTicks, yLabels: dYTickLabels,
  series: [
    { data: debPmpMes, color: RED, width: 2 },
    { data: debPmpSim, color: RED, width: 3.5, dash: dotted },
    { data: debDpMes, color: BLK, width: 2 },
    { data: debDpSim, color: BLK, width: 3.5, dash: dotted }
  ] });
ylabel(37, 1415, 'Débit (g/s)');
legend({ x: 891, y: 1367, w: 158, h: 96, first: 15.5, step: 22.3, lx1: 902, lx2: 963, tx: 967,
  items: [
    { label: legendB[0], color: RED, width: 4.5 },
    { label: legendB[1], color: RED, width: 3.5, dash: dotted },
    { label: legendB[2], color: BLK, width: 2.2 },
    { label: legendB[3], color: BLK, width: 3.5, dash: dotted }
  ] });
// purge annotations
purgeTimes.forEach(t => {
  svg.append('ellipse')
    .attr('cx', pd.x(t)).attr('cy', pd.y(purgeLevel))
    .attr('rx', pd.x(t + purgeHalfWidth) - pd.x(t))
    .attr('ry', pd.y(purgeLevel - purgeHalfHeight) - pd.y(purgeLevel))
    .attr('fill', 'none').attr('stroke', '#8c8c8c').attr('stroke-width', 4.5);
});
svg.append('text').attr('x', pd.x(purgeLabelAt[0])).attr('y', pd.y(purgeLabelAt[1]))
  .attr('fill', '#8c8c8c').style('font-family', '"Open Sans", sans-serif')
  .style('font-weight', 'bold').style('font-size', '30px').text(purgeLabel);
svg.append('text').attr('x', (104 + 857) / 2).attr('y', 1576).attr('text-anchor', 'middle')
  .attr('fill', AX).style('font-family', SANS).style('font-size', '21px').text('Temps(s)');
</script>
</body></html>
